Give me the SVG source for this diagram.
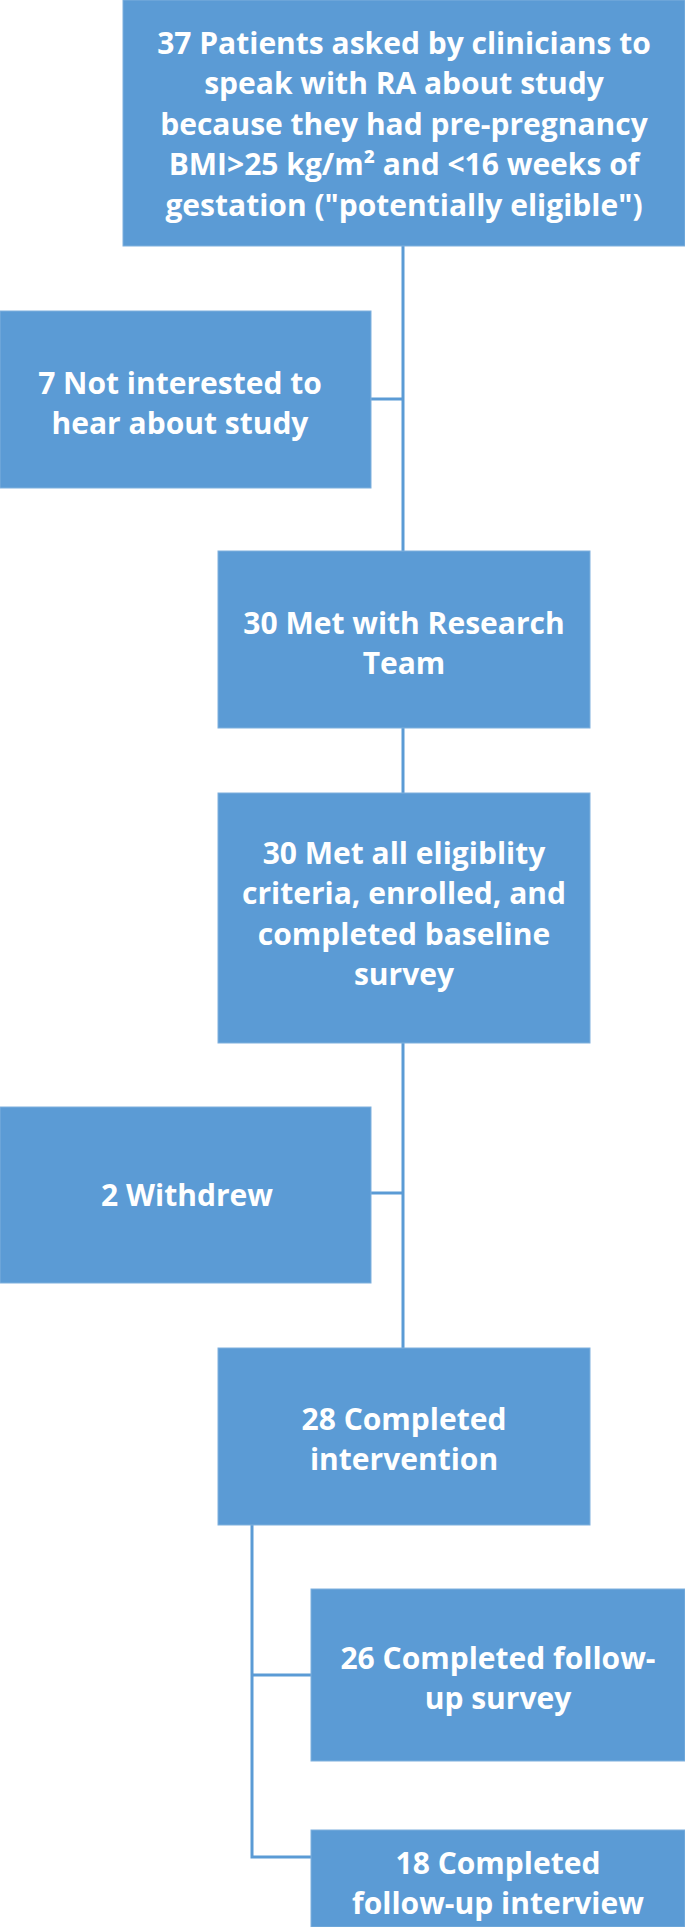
<svg xmlns="http://www.w3.org/2000/svg" width="685" height="1927" viewBox="0 0 685 1927">
<style>
.b{fill:#5b9bd5;stroke:#7fb0dd;stroke-width:1}
.t{font-family:"Open Sans","Liberation Sans",sans-serif;font-weight:bold;font-size:30px;fill:#fff;text-anchor:middle}
.c{stroke:#5b9bd5;stroke-width:3;fill:none}
</style>
<rect width="685" height="1927" fill="#fff"/>
<g id="connectors">
<path class="c" d="M403 246V551M371 399H403M403 728V793M403 1043V1348M371 1193H403M252 1525V1857H311M252 1675H311"/>
</g>
<g id="n1"><rect class="b" x="123" y="0" width="562" height="246"/>
<text class="t" x="404"><tspan x="404" y="54">37 Patients asked by clinicians to</tspan><tspan x="404" y="94">speak with RA about study</tspan><tspan x="404" y="135">because they had pre-pregnancy</tspan><tspan x="404" y="175">BMI&gt;25 kg/m² and &lt;16 weeks of</tspan><tspan x="404" y="216">gestation ("potentially eligible")</tspan></text></g>
<g id="n2"><rect class="b" x="0" y="311" width="371" height="177"/>
<text class="t"><tspan x="180" y="394">7 Not interested to</tspan><tspan x="180" y="434">hear about study</tspan></text></g>
<g id="n3"><rect class="b" x="218" y="551" width="372" height="177"/>
<text class="t"><tspan x="404" y="634">30 Met with Research</tspan><tspan x="404" y="674">Team</tspan></text></g>
<g id="n4"><rect class="b" x="218" y="793" width="372" height="250"/>
<text class="t"><tspan x="404" y="864">30 Met all eligiblity</tspan><tspan x="404" y="904">criteria, enrolled, and</tspan><tspan x="404" y="945">completed baseline</tspan><tspan x="404" y="985">survey</tspan></text></g>
<g id="n5"><rect class="b" x="0" y="1107" width="371" height="176"/>
<text class="t" x="187" y="1206">2 Withdrew</text></g>
<g id="n6"><rect class="b" x="218" y="1348" width="372" height="177"/>
<text class="t"><tspan x="404" y="1430">28 Completed</tspan><tspan x="404" y="1470">intervention</tspan></text></g>
<g id="n7"><rect class="b" x="311" y="1589" width="374" height="172"/>
<text class="t"><tspan x="498" y="1669">26 Completed follow-</tspan><tspan x="498" y="1709">up survey</tspan></text></g>
<g id="n8"><rect class="b" x="311" y="1830" width="374" height="97"/>
<text class="t"><tspan x="498" y="1874">18 Completed</tspan><tspan x="498" y="1914">follow-up interview</tspan></text></g>
</svg>
